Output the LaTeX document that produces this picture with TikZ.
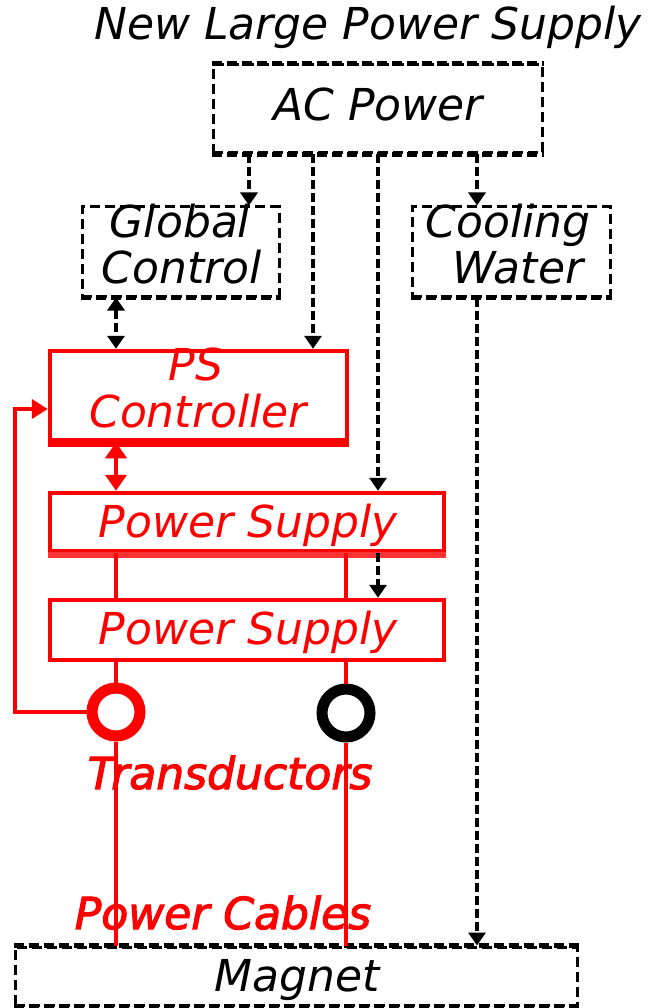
\documentclass[tikz,border=0pt]{standalone}
\usepackage{fontspec}
\setmainfont{DejaVu Sans}
\newfontfamily\heavyfont{DejaVu Sans}[ItalicFeatures={FakeBold=2.5}]
\usetikzlibrary{arrows.meta}
\begin{document}
\begin{tikzpicture}[x=1pt,y=-1pt,
  lbl/.style={font=\fontsize{44}{47}\selectfont\itshape, anchor=base, inner sep=0pt},
  redlbl/.style={lbl, text=red},
  heavylbl/.style={font=\fontsize{44}{47}\selectfont\heavyfont\itshape, text=red, anchor=base, inner sep=0pt},
  dbox/.style={draw=black, line width=3pt, dash pattern=on 10pt off 5pt, inner sep=0pt},
  dedge/.style={draw=black, line width=5pt, dash pattern=on 10pt off 5pt},
  rbox/.style={draw=red, line width=4.5pt, inner sep=0pt},
  redge/.style={draw=red, line width=6pt},
  ring/.style={circle, draw=#1, line width=11pt, minimum size=48pt, inner sep=0pt},
  darrow/.style={draw=black, line width=4pt, dash pattern=on 9pt off 4pt,
                 -{Triangle[length=13pt,width=17pt]}},
  ddarrow/.style={darrow, {Triangle[length=13pt,width=17pt]}-{Triangle[length=13pt,width=17pt]}},
  rline/.style={draw=red, line width=4.5pt},
  rdarrow/.style={rline, {Triangle[length=16pt,width=21pt]}-{Triangle[length=16pt,width=21pt]}},
  rarrow/.style={rline, -{Triangle[length=16pt,width=19pt]}}
]
\useasboundingbox (0,0) rectangle (649,1008);

% title
\node[lbl] (title) at (368,40) {New Large Power Supply};

% supply side boxes
\node[dbox, minimum width=329pt, minimum height=88pt] (ac) at (377.5,109) {};
\node[lbl] (actxt) at (378,121) {AC Power};
\draw[dedge] (ac.south west) -- (ac.south east);
\draw[dedge] (ac.north west) -- (ac.north east);

\node[dbox, minimum width=197pt, minimum height=89pt] (glob) at (180.5,251.5) {};
\node[lbl] (globA) at (180,237) {Global};
\node[lbl] (globB) at (182,283) {Control};
\draw[dedge] (glob.south west) -- (glob.south east);

\node[dbox, minimum width=198pt, minimum height=89pt] (cool) at (511,251.5) {};
\node[lbl] (coolA) at (508,237) {Cooling};
\node[lbl] (coolB) at (518,283) {Water};
\draw[dedge] (cool.south west) -- (cool.south east);

% controller and supplies
\node[rbox, minimum width=297pt, minimum height=89pt] (psc) at (198.5,395.5) {};
\draw[redge] ([yshift=-1.5pt]psc.south west) -- ([yshift=-1.5pt]psc.south east);
\node[redlbl] (pscA) at (196,380) {PS};
\node[redlbl] (pscB) at (198,427) {Controller};

\node[rbox, minimum width=394pt, minimum height=58pt] (ps1) at (247,522) {};
\draw[redge, red!80] ([yshift=-2pt]ps1.south west) -- ([yshift=-2pt]ps1.south east);
\node[redlbl] (ps1txt) at (248,537) {Power Supply};

\node[rbox, minimum width=394pt, minimum height=60pt] (ps2) at (247,630) {};
\node[redlbl] (ps2txt) at (248,644) {Power Supply};

% transductors
\node[ring=red] (trA) at (116,712) {};
\node[ring=black] (trB) at (346,713) {};
\node[heavylbl] (trlbl) at (230,789) {Transductors};

% magnet
\node[dbox, minimum width=562pt, minimum height=58pt] (mag) at (296,976) {};
\draw[dedge] (mag.north west) -- (mag.north east);
\draw[dedge] (mag.south west) -- (mag.south east);
\node[lbl] (magtxt) at (297,991) {Magnet};

% connector columns
\coordinate (cA) at (249,0);
\coordinate (cB) at (313,0);
\coordinate (cC) at (378,0);
\coordinate (cD) at (477,0);
\coordinate (cL) at (116,0);
\coordinate (cR) at (346,0);
\coordinate (fb) at (15,409);

% AC distribution and cooling
\draw[darrow] (ac.south -| cA) -- (glob.north -| cA);
\draw[darrow] (ac.south -| cB) -- (psc.north -| cB);
\draw[darrow] (ac.south -| cC) -- (ps1.north -| cC);
\draw[darrow] (ac.south -| cD) -- (cool.north -| cD);
\draw[darrow] (ps1.south -| cC) -- (ps2.north -| cC);
\draw[darrow] (cool.south -| cD) -- (mag.north -| cD);
\draw[ddarrow] (glob.south -| cL) -- (psc.north -| cL);

% control link and power path
\draw[rdarrow] (psc.south -| cL) -- (ps1.north -| cL);
\draw[rline] (ps1.south -| cL) -- (ps2.north -| cL);
\draw[rline] (ps1.south -| cR) -- (ps2.north -| cR);
\draw[rline] (ps2.south -| cL) -- (trA.north);
\draw[rline] (ps2.south -| cR) -- (trB.north);
\draw[rline] (trA.south) -- (mag.north -| cL);
\draw[rline] (trB.south) -- (mag.north -| cR);

% current feedback to the controller
\draw[rarrow] (trA.west) -| (fb) -- (psc.west |- fb);

\node[heavylbl] (cables) at (223,929) {Power Cables};
\end{tikzpicture}
\end{document}
